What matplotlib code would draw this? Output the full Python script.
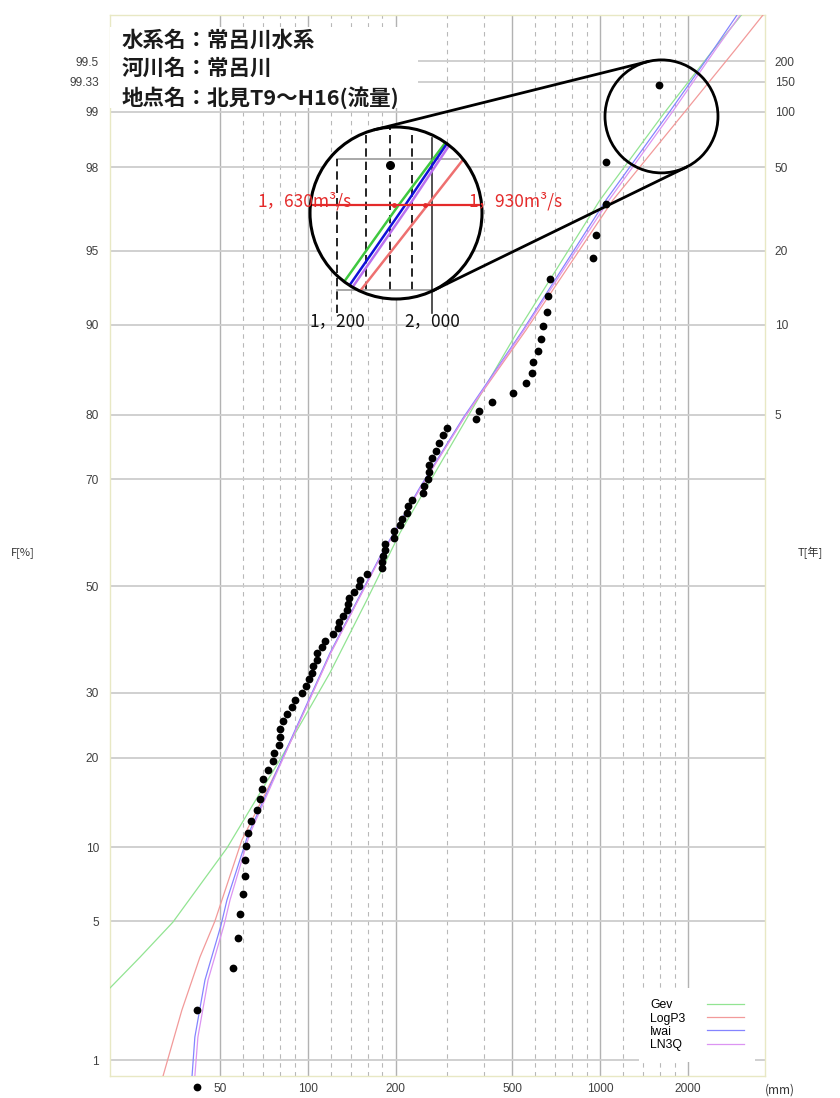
import math
from statistics import NormalDist
import numpy as np
import matplotlib
matplotlib.use('Agg')
import matplotlib.pyplot as plt
import matplotlib.transforms as mtransforms
from matplotlib.patches import Circle, Rectangle
from matplotlib.lines import Line2D
from matplotlib.ticker import FixedLocator, NullFormatter, NullLocator

plt.rcParams['font.family'] = ['Liberation Sans', 'Noto Sans CJK JP']
JP = ['Noto Sans CJK JP', 'DejaVu Sans']

# ---- data ----
# annual maxima (sorted) and their plotting positions F [%]
flow = [41.7, 41.7, 55.4, 57.6, 58.3, 59.9, 60.8, 60.8, 61.3, 62.3,
        63.8, 66.9, 68.5, 69.6, 70.1, 72.9, 75.9, 76.5, 79.6, 80.2,
        80.5, 82.1, 84.7, 88.1, 90.3, 95.4, 98.4, 100.8, 103.2, 104.0,
        107.4, 107.6, 111.7, 114.3, 121.8, 126.7, 127.7, 131.8, 136.0, 137.5,
        138.2, 143.7, 149.5, 150.7, 159.2, 179.2, 179.4, 180.6, 183.5, 183.6,
        197.0, 197.2, 206.6, 209.9, 218.3, 220.0, 227.1, 247.7, 249.7, 257.6,
        259.6, 259.8, 265.9, 274.4, 281.0, 290.0, 299.2, 376.0, 385.1, 426.7,
        503.6, 557.9, 584.9, 589.5, 613.4, 628.0, 637.9, 658.4, 663.7, 674.3,
        946.3, 969.0, 1048, 1049, 1593]
fprob = [0.70, 1.88, 3.05, 4.23, 5.40, 6.57, 7.75, 8.92, 10.09, 11.27,
         12.44, 13.62, 14.79, 15.96, 17.14, 18.31, 19.48, 20.66, 21.83, 23.00,
         24.18, 25.35, 26.53, 27.70, 28.87, 30.05, 31.22, 32.39, 33.57, 34.74,
         35.92, 37.09, 38.26, 39.44, 40.61, 41.78, 42.96, 44.13, 45.31, 46.48,
         47.65, 48.83, 50.00, 51.17, 52.35, 53.52, 54.69, 55.87, 57.04, 58.22,
         59.39, 60.56, 61.74, 62.91, 64.08, 65.26, 66.43, 67.61, 68.78, 69.95,
         71.13, 72.30, 73.47, 74.65, 75.82, 77.00, 78.17, 79.34, 80.52, 81.69,
         82.86, 84.04, 85.21, 86.38, 87.56, 88.73, 89.91, 91.08, 92.25, 93.43,
         94.60, 95.77, 96.95, 98.12, 99.30]

# fitted distributions
gev_q = [21.0, 26.6, 34.5, 52.8, 82.1, 118.9, 159.2, 206.6, 524, 1000, 1670, 2440, 3050]
gev_f = [2.43, 3.43, 4.96, 9.93, 20.4, 33.5, 47.3, 60.3, 89.5, 97.09, 99.0, 99.573, 99.746]

logp3_q = [31.9, 37.0, 42.7, 48.0, 59.4, 82.5, 119.5, 177.0, 243.0, 342.0, 557.9, 1108, 1950, 2362, 2900, 3615]
logp3_f = [0.81, 1.87, 3.44, 5.0, 10.63, 20.07, 37.1, 55.7, 68.6, 79.5, 89.54, 97.09, 99.0, 99.33, 99.573, 99.746]

iwai_q = [40.1, 41.0, 44.4, 50.4, 52.8, 62.3, 82.1, 118.9, 176.4, 241.9, 339.6, 544.8, 1049, 1730, 2440, 2946]
iwai_f = [0.81, 1.345, 2.66, 4.81, 6.17, 11.09, 20.07, 37.1, 55.7, 68.6, 79.5, 89.54, 97.09, 99.0, 99.573, 99.746]

ln3q_q = [41.0, 42.0, 45.5, 51.6, 54.1, 63.0, 82.6, 119.6, 177.4, 243.5, 342.0, 549.0, 1074, 1770, 2480, 3023]
ln3q_f = [0.81, 1.345, 2.66, 4.81, 6.17, 11.09, 20.07, 37.1, 55.7, 68.6, 79.5, 89.54, 97.09, 99.0, 99.573, 99.746]

x_major = [50, 100, 200, 500, 1000, 2000]
x_minor = [60, 70, 80, 90, 120, 140, 160, 180, 300, 400,
           600, 700, 800, 900, 1200, 1400, 1600, 1800]
f_ticks = [1, 5, 10, 20, 30, 50, 70, 80, 90, 95, 98, 99, 99.333, 99.5]
f_labels = ['1', '5', '10', '20', '30', '50', '70', '80', '90', '95', '98', '99', '99.33', '99.5']
t_ticks = [80, 90, 95, 98, 99, 99.333, 99.5]
t_labels = ['5', '10', '20', '50', '100', '150', '200']

# magnified window
zoom_q, zoom_f = 1624, 98.94
inset_xlim = (1038, 2619)
inset_ylim = (97.855, 99.505)
inset_guides = [1200, 1400, 1600, 1800]
q100 = [1630, 1930]

title_lines = ['水系名：常呂川水系', '河川名：常呂川', '地点名：北見T9～H16(流量)']

C_GEV, C_LP3, C_IWAI, C_LN3Q = '#92e492', '#f29a9a', '#8484ff', '#dc94f2'
CI_GEV, CI_LP3, CI_IWAI, CI_LN3Q = '#3fc83f', '#ee7070', '#1010d8', '#bb70ee'


# ---- normal probability scale ----
_nd = NormalDist()


def _ppf1(p):
    if 0.0 < p < 1.0:
        return _nd.inv_cdf(p)
    return np.nan


_ppf = np.vectorize(_ppf1, otypes=[float])
_erf = np.vectorize(math.erf, otypes=[float])


def to_z(p):
    p = np.clip(np.asarray(p, dtype=float) / 100.0, 1e-9, 1 - 1e-9)
    return _ppf(p)


def from_z(z):
    return 50.0 * (1.0 + _erf(np.asarray(z, dtype=float) / math.sqrt(2.0)))


fig = plt.figure(figsize=(8.4, 10.98), dpi=100)
ax = fig.add_axes([0.13095, 0.02004, 0.77976, 0.96630])
ax.set_xscale('log')
ax.set_yscale('function', functions=(to_z, from_z))
ax.set_xlim(21.0, 3673)
ax.set_ylim(0.811, 99.746)

ax.set_xticks(x_major)
ax.set_xticklabels([str(v) for v in x_major])
ax.xaxis.set_minor_locator(FixedLocator(x_minor))
ax.xaxis.set_minor_formatter(NullFormatter())
ax.set_yticks(f_ticks)
ax.set_yticklabels(f_labels)
ax.yaxis.set_minor_locator(NullLocator())
ax.yaxis.set_minor_formatter(NullFormatter())
ax.tick_params(which='both', length=0, labelsize=8.6, labelcolor='#404040')
ax.tick_params(axis='y', pad=8)
ax.tick_params(axis='x', pad=5)

ax.grid(True, which='major', axis='y', color='#cdcdcd', lw=1.3)
ax.grid(True, which='major', axis='x', color='#b2b2b2', lw=1.0)
ax.grid(True, which='minor', axis='x', color='#b8b8b8', lw=0.8, ls=(0, (4, 4)))
for s in ax.spines.values():
    s.set_color('#e8e8c4')
    s.set_linewidth(1.0)

# right axis: return period
ax2 = ax.twinx()
ax2.set_yscale('function', functions=(to_z, from_z))
ax2.set_ylim(ax.get_ylim())
ax2.set_yticks(t_ticks)
ax2.set_yticklabels(t_labels)
ax2.yaxis.set_minor_locator(NullLocator())
ax2.yaxis.set_minor_formatter(NullFormatter())
ax2.tick_params(length=0, pad=7, labelsize=8.6, labelcolor='#404040')
for s in ax2.spines.values():
    s.set_visible(False)

# curves and points
ax.plot(gev_q, gev_f, color=C_GEV, lw=0.9, label='Gev', zorder=3)
ax.plot(logp3_q, logp3_f, color=C_LP3, lw=0.9, label='LogP3', zorder=3)
ax.plot(iwai_q, iwai_f, color=C_IWAI, lw=0.9, label='Iwai', zorder=3)
ax.plot(ln3q_q, ln3q_f, color=C_LN3Q, lw=0.9, label='LN3Q', zorder=3)
ax.plot(flow, fprob, 'o', color='black', ms=5.6, mec='none', zorder=4, clip_on=False)

# title block
ax.add_patch(Rectangle((0, 0.912), 0.470, 0.0767, transform=ax.transAxes,
                       facecolor='white', edgecolor='none', zorder=5))
for i, line in enumerate(title_lines):
    ax.text(0.0183, 0.9764 - i * 0.0269, line, transform=ax.transAxes, family=JP,
            fontsize=15.5, fontweight='bold', color='#1a1a1a', va='center', ha='left',
            zorder=6)

# legend (labels left, line samples right)
leg = ax.legend(loc='lower right', bbox_to_anchor=(0.9847, 0.0132), borderaxespad=0,
                markerfirst=False, frameon=True, fancybox=False, edgecolor='none',
                facecolor='white', framealpha=1, fontsize=8.8, handlelength=3.0,
                handletextpad=1.8, labelspacing=0.1, borderpad=0.9)
leg.set_zorder(7)
try:
    renderer = fig.canvas.get_renderer()
    widths = [t.get_window_extent(renderer).width for t in leg.get_texts()]
    wmax = max(widths)
    items = leg._legend_handle_box.get_children()[0].get_children()
    for hp, w in zip(items, widths):
        hp.sep = hp.sep + (wmax - w) * 72.0 / fig.dpi
except Exception:
    pass

# small circle on the main chart
trans = fig.dpi_scale_trans + mtransforms.ScaledTranslation(zoom_q, zoom_f, ax.transData)
ax.add_patch(Circle((0, 0), 0.565, transform=trans, fill=False, ec='black', lw=2.0,
                    zorder=8, clip_on=False))

# magnified inset
ax_in = fig.add_axes([310 / 840, 1 - 299 / 1098, 172 / 840, 172 / 1098])
ax_in.set_xscale('log')
ax_in.set_yscale('function', functions=(to_z, from_z))
ax_in.set_xlim(*inset_xlim)
ax_in.set_ylim(*inset_ylim)
ax_in.axis('off')
disc = Circle((0.5, 0.5), 0.5, transform=ax_in.transAxes, facecolor='white',
              edgecolor='none', zorder=1, clip_on=False)
ax_in.add_patch(disc)

clipped = []
for q in inset_guides[1:]:
    clipped += ax_in.plot([q, q], [98.0, inset_ylim[1]], color='black', lw=1.2,
                          ls=(0, (5, 3)), zorder=2)
clipped.append(ax_in.axhline(99.0, color='#e42a2a', lw=1.6, zorder=4))
clipped += ax_in.plot(gev_q, gev_f, color=CI_GEV, lw=1.8, zorder=3)
clipped += ax_in.plot(logp3_q, logp3_f, color=CI_LP3, lw=1.8, zorder=3)
clipped += ax_in.plot(ln3q_q, ln3q_f, color=CI_LN3Q, lw=1.8, zorder=3)
clipped += ax_in.plot(iwai_q, iwai_f, color=CI_IWAI, lw=1.8, zorder=3)
clipped += ax_in.plot(flow, fprob, 'o', color='black', ms=6.5, mec='none', zorder=5)
clipped += ax_in.plot(q100, [99.0, 99.0], 'o', color='#e42a2a', ms=3.5, mec='none', zorder=5)
for a in clipped:
    a.set_clip_path(disc)

ax_in.plot([1200, 2300], [99.333, 99.333], color='#9a9a9a', lw=1.2, zorder=2, clip_on=False)
ax_in.plot([1200, 2000], [98.0, 98.0], color='#9a9a9a', lw=1.2, zorder=2, clip_on=False)
ax_in.plot([1200, 1200], [97.61, 99.333], color='black', lw=1.2, ls=(0, (5, 3)),
           zorder=2, clip_on=False)
ax_in.plot([2000, 2000], [97.61, 99.45], color='#333333', lw=1.2, zorder=2, clip_on=False)
ax_in.add_patch(Circle((0.5, 0.5), 0.5, transform=ax_in.transAxes, fill=False,
                       ec='black', lw=2.2, zorder=9, clip_on=False))
for q, lab in zip([1200, 2000], ['1，200', '2，000']):
    ax_in.text(q, 97.46, lab, family=JP, fontsize=12.5, ha='center', va='center',
               color='#111111', zorder=10, clip_on=False)
ax_in.text(0.244, 0.570, '1，630m³/s', transform=ax_in.transAxes, family=JP,
           fontsize=12.5, color='#e42a2a', ha='right', va='center', zorder=11, clip_on=False)
ax_in.text(0.924, 0.570, '1，930m³/s', transform=ax_in.transAxes, family=JP,
           fontsize=12.5, color='#e42a2a', ha='left', va='center', zorder=11, clip_on=False)

# tangent lines joining the two circles
c1 = np.array(ax_in.transAxes.transform((0.5, 0.5)))
r1 = 0.5 * ax_in.bbox.width
c2 = np.array(ax.transData.transform((zoom_q, zoom_f)))
r2 = 0.565 * fig.dpi
d = c2 - c1
D = np.hypot(d[0], d[1])
u = d / D
th = math.acos((r2 - r1) / D)
inv = fig.transFigure.inverted()
for sgn in (1, -1):
    a = sgn * th
    n = np.array([u[0] * math.cos(a) - u[1] * math.sin(a),
                  u[0] * math.sin(a) + u[1] * math.cos(a)])
    p = inv.transform([c1 - r1 * n, c2 - r2 * n])
    fig.add_artist(Line2D(p[:, 0], p[:, 1], transform=fig.transFigure,
                          color='black', lw=2.0, zorder=3))

# axis captions
fig.text(23 / 840, 1 - 553 / 1098, 'F[%]', family=JP, fontsize=8, color='#333333',
         ha='center', va='center')
fig.text(810 / 840, 1 - 553 / 1098, 'T[年]', family=JP, fontsize=8, color='#333333',
         ha='center', va='center')
fig.text(780 / 840, 1 - 1090 / 1098, '(mm)', family=JP, fontsize=8.6, color='#333333',
         ha='center', va='center')

fig.savefig('out.png', dpi=100)
